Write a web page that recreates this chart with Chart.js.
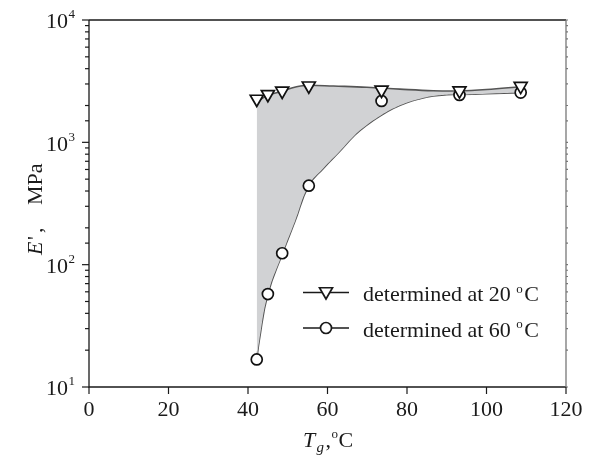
<!DOCTYPE html>
<html lang="en">
<head>
<meta charset="UTF-8" />
<title>E' vs Tg</title>
<script src="https://cdn.jsdelivr.net/npm/chart.js@4.4.0/dist/chart.umd.min.js"></script>
<style>
  html, body { margin: 0; padding: 0; background: #fff; }
  #wrap { width: 595px; height: 459px; }
</style>
</head>
<body>
<div id="wrap"><canvas id="chart" width="595" height="459"></canvas></div>
<script>
// measured points
const tg20 = [42.2, 45.0, 48.6, 55.3, 73.6, 93.2, 108.6];
const e20  = [2260, 2470, 2630, 2900, 2680, 2650, 2880];
const tg60 = [42.2, 45.0, 48.6, 55.3, 73.6, 93.2, 108.6];
const e60  = [16.8, 57.5, 124, 442, 2180, 2440, 2550];

// fitted curves
const fitTgTop = [42.2, 45.0, 48.6, 51.0, 53.2, 55.3, 61.5, 69.9, 78.2, 86.6, 93.0, 100, 108.6];
const fitETop  = [2150, 2420, 2620, 2780, 2890, 2930, 2885, 2820, 2720, 2640, 2630, 2700, 2850];
const fitTgBot = [42.2, 42.85, 45.0, 48.7, 51.8, 55.3, 58.9, 63.1, 66.9, 69.9, 73.2, 76.6, 79.9, 83.3, 86.6, 90.0, 93.0, 100, 108.6];
const fitEBot  = [16.8, 24.2, 57.5, 124, 225, 445, 610, 845, 1148, 1385, 1641, 1897, 2108, 2273, 2393, 2450, 2460, 2500, 2550];

const xTicks = [0, 20, 40, 60, 80, 100, 120];
const yTicks = [10, 100, 1000, 10000];
const legendLabels = ['20', '60'];

const FONT = '"Liberation Serif", "Times New Roman", serif';
const pts = (xs, ys) => xs.map((x, i) => ({ x: x, y: ys[i] }));

const tri = { pointStyle: 'triangle', rotation: 180, radius: 7.5, borderWidth: 1.7 };
const circ = { pointStyle: 'circle', rotation: 0, radius: 5.5, borderWidth: 1.7 };

// axes, ticks, labels, titles and legend
const decor = {
  id: 'decor',
  afterDraw(chart) {
    const ctx = chart.ctx;
    const a = chart.chartArea;
    const xs = chart.scales.x, ys = chart.scales.y;
    ctx.save();
    ctx.lineWidth = 1.3;
    ctx.strokeStyle = '#1a1a1a';
    ctx.beginPath();
    ctx.moveTo(a.left, a.top); ctx.lineTo(a.left, a.bottom); ctx.lineTo(a.right, a.bottom);
    ctx.moveTo(a.left, a.top); ctx.lineTo(a.right, a.top);
    ctx.stroke();
    ctx.strokeStyle = '#777';
    ctx.beginPath(); ctx.moveTo(a.right, a.top); ctx.lineTo(a.right, a.bottom); ctx.stroke();

    // y ticks
    ctx.lineWidth = 1.2;
    ys.ticks.forEach(t => {
      const p = ys.getPixelForValue(t.value);
      const lg = Math.log10(t.value);
      const major = Math.abs(lg - Math.round(lg)) < 1e-6;
      ctx.strokeStyle = '#1a1a1a';
      ctx.beginPath(); ctx.moveTo(a.left, p); ctx.lineTo(a.left - (major ? 7 : 4), p); ctx.stroke();
      ctx.strokeStyle = '#777';
      ctx.beginPath(); ctx.moveTo(a.right, p); ctx.lineTo(a.right + 2, p); ctx.stroke();
    });
    ctx.fillStyle = '#1a1a1a';
    ctx.textBaseline = 'alphabetic';
    yTicks.forEach(v => {
      const p = ys.getPixelForValue(v);
      ctx.font = '22px ' + FONT;
      ctx.textAlign = 'right';
      ctx.fillText('10', 68, p + 8.3);
      ctx.font = '13px ' + FONT;
      ctx.textAlign = 'left';
      ctx.fillText(String(Math.round(Math.log10(v))), 68.5, p - 1.7);
    });

    // x ticks
    ctx.strokeStyle = '#1a1a1a';
    ctx.font = '22px ' + FONT;
    ctx.textAlign = 'center';
    xTicks.forEach(v => {
      const p = xs.getPixelForValue(v);
      ctx.beginPath(); ctx.moveTo(p, a.bottom); ctx.lineTo(p, a.bottom + 7); ctx.stroke();
      ctx.fillText(String(v), p, 416);
    });

    // x title
    ctx.textAlign = 'left';
    ctx.font = 'italic 22px ' + FONT;
    ctx.fillText('T', 303, 446.7);
    ctx.font = 'italic 15px ' + FONT;
    ctx.fillText('g', 316.5, 451.5);
    ctx.font = '22px ' + FONT;
    ctx.fillText(',', 325.5, 446.7);
    ctx.font = '13px ' + FONT;
    ctx.fillText('o', 331.5, 438);
    ctx.font = '22px ' + FONT;
    ctx.fillText('C', 338.5, 446.7);

    // y title
    ctx.save();
    ctx.translate(42, 255);
    ctx.rotate(-Math.PI / 2);
    ctx.font = 'italic 22px ' + FONT;
    ctx.fillText('E', 0, 0);
    ctx.font = '22px ' + FONT;
    ctx.fillText("'", 15, 0);
    ctx.fillText(',', 22, 0);
    ctx.fillText('MPa', 50, 0);
    ctx.restore();

    // legend
    const items = [tri, circ];
    items.forEach((st, i) => {
      const ly = 292.5 + i * 35.5;
      ctx.strokeStyle = '#1a1a1a';
      ctx.lineWidth = 1.3;
      ctx.beginPath(); ctx.moveTo(303, ly); ctx.lineTo(349, ly); ctx.stroke();
      ctx.fillStyle = '#fff';
      ctx.lineWidth = st.borderWidth;
      Chart.helpers.drawPoint(ctx, st, 326, ly + (i === 0 ? -1 : 0));
      ctx.fillStyle = '#1a1a1a';
      ctx.font = '22px ' + FONT;
      const txt = 'determined at ' + legendLabels[i];
      ctx.fillText(txt, 363, ly + 8.8);
      const w = ctx.measureText(txt).width;
      ctx.font = '13px ' + FONT;
      ctx.fillText('o', 363 + w + 5.5, ly);
      ctx.font = '22px ' + FONT;
      ctx.fillText('C', 363 + w + 13.5, ly + 8.8);
    });
    ctx.restore();
  }
};

const markerSet = (data, st) => ({
  data: data,
  showLine: false,
  pointStyle: st.pointStyle,
  rotation: st.rotation,
  pointRadius: st.radius,
  pointBorderWidth: st.borderWidth,
  pointBorderColor: '#111',
  pointBackgroundColor: '#fff',
  fill: false
});

function draw() {
  new Chart(document.getElementById('chart'), {
    type: 'scatter',
    data: {
      datasets: [
        markerSet(pts(tg20, e20), tri),
        markerSet(pts(tg60, e60), circ),
        {
          data: pts(fitTgTop, fitETop),
          showLine: true,
          pointRadius: 0,
          borderColor: '#555',
          borderWidth: 1.6,
          tension: 0.4,
          fill: { target: 3 },
          backgroundColor: '#d1d2d4'
        },
        {
          data: pts(fitTgBot, fitEBot),
          showLine: true,
          pointRadius: 0,
          borderColor: '#555',
          borderWidth: 1.6,
          tension: 0.45,
          fill: false
        }
      ]
    },
    options: {
      responsive: false,
      animation: false,
      events: [],
      layout: { padding: { top: 20, right: 29, left: 0, bottom: 0 } },
      plugins: { legend: { display: false }, tooltip: { enabled: false } },
      scales: {
        x: {
          type: 'linear', min: 0, max: 120,
          ticks: { display: false, stepSize: 20 },
          grid: { display: false }, border: { display: false },
          afterFit: s => { s.height = 72; }
        },
        y: {
          type: 'logarithmic', min: 10, max: 10000,
          ticks: { display: false, autoSkip: false },
          grid: { display: false }, border: { display: false },
          afterFit: s => { s.width = 89; }
        }
      }
    },
    plugins: [decor]
  });
}

Promise.all([
  document.fonts.load('22px "Liberation Serif"'),
  document.fonts.load('italic 22px "Liberation Serif"')
]).then(draw, draw);
</script>
</body>
</html>
